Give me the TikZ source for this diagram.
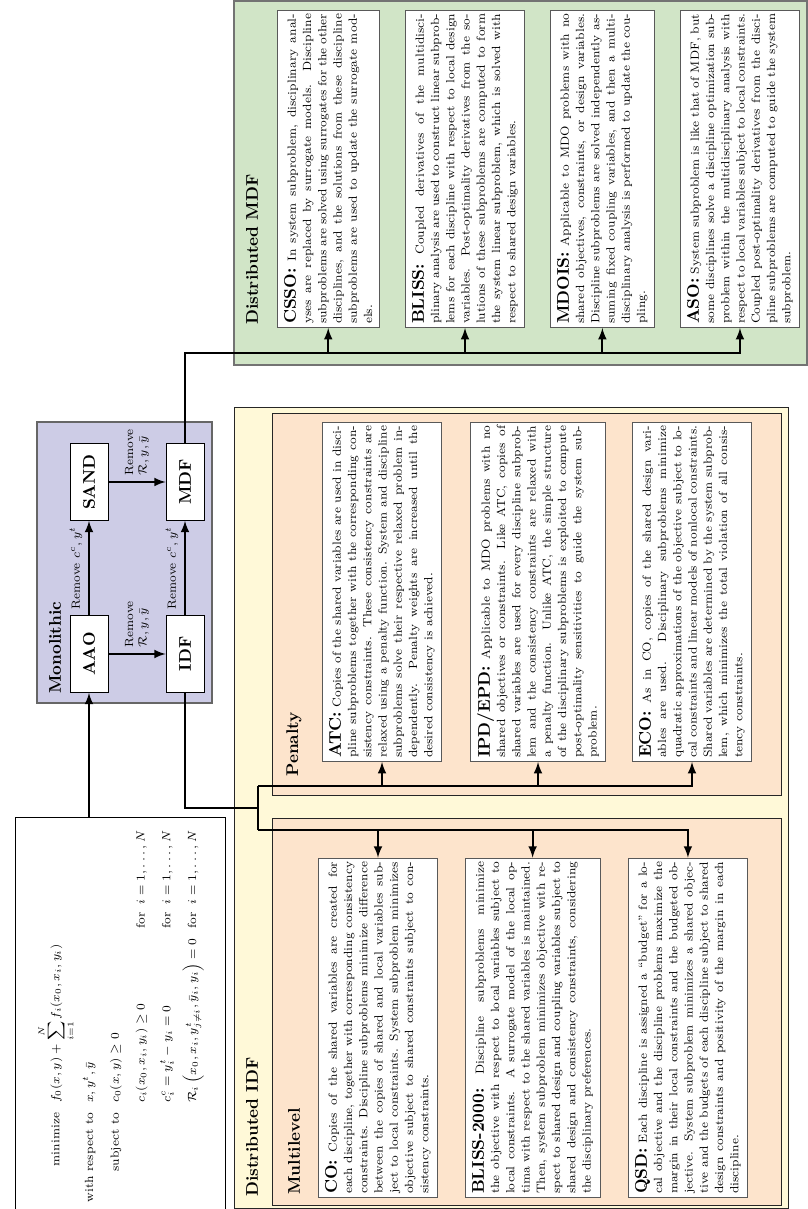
\documentclass[tikz,border=0pt]{standalone}
\usepackage{amsmath,amssymb}
\usepackage{tikz}
\usetikzlibrary{positioning}
\definecolor{monofill}{RGB}{205,204,230}
\definecolor{idffill}{RGB}{255,249,216}
\definecolor{subfill}{RGB}{253,228,204}
\definecolor{mdffill}{RGB}{209,229,199}
\newcommand{\hd}[1]{{\normalsize\bfseries #1:}\ }
\hyphenation{anal-yses in-dependently desired}

\begin{document}
\begin{tikzpicture}[x=0.59pt,y=-0.59pt,rotate=90,transform shape,
 every node/.style={font=\scriptsize},
 grouplabel/.style={font=\normalsize\bfseries,anchor=west,inner sep=0pt},
 arch/.style={draw,fill=white,font=\normalsize\bfseries,minimum width=45.4pt,minimum height=22.4pt},
 desc/.style={draw=black!65,fill=white,anchor=north west,align=justify,inner xsep=2.2pt,inner ysep=4pt,
  text width=#1,font=\fontsize{7}{9}\selectfont},
 bus/.style={line width=1.3pt},
 feed/.style={line width=1.3pt,-latex}]
\useasboundingbox (0,0) rectangle (1209,807);

% group boxes
\draw[draw=black!60,line width=1pt,fill=monofill] (506,37) rectangle (787,212);
\draw[draw=black!55,line width=1.2pt,fill=mdffill] (844,234) rectangle (1208,807);
\draw[draw=black!85,line width=0.5pt,fill=idffill] (1,234) rectangle (802,788);
\draw[draw=black!85,line width=0.5pt,fill=subfill] (4,272) rectangle (391,781);
\draw[draw=black!85,line width=0.5pt,fill=subfill] (414,272) rectangle (796,781);

% problem statement
\node[draw,fill=white,anchor=north east,inner sep=5pt,minimum height=124pt,font=\scriptsize] (prob) at (392,15)
 {\setlength{\arraycolsep}{3pt}\renewcommand{\arraystretch}{1.9}$\begin{array}{rll}
 \text{minimize} & f_0(x,y)+\displaystyle\sum_{i=1}^{N} f_i(x_0,x_i,y_i) & \\[4pt]
 \text{with respect to} & x,y^t,\bar{y} & \\
 \text{subject to} & c_0(x,y)\ge 0 & \\
 & c_i(x_0,x_i,y_i)\ge 0 & \text{for}\;\; i=1,\ldots,N\\
 & c^c_i=y^t_i-y_i=0 & \text{for}\;\; i=1,\ldots,N\\
 & \mathcal{R}_i\left(x_0,x_i,y^t_{j\ne i},\bar{y}_i,y_i\right)=0 & \text{for}\;\; i=1,\ldots,N
 \end{array}$};

% monolithic
\node[grouplabel] (monolbl) at (515,55) {Monolithic};
\node[arch] (aao) at (555,89) {AAO};
\node[arch] (sand) at (727,89) {SAND};
\node[arch] (idf) at (555,185) {IDF};
\node[arch] (mdf) at (727,185) {MDF};
\draw[feed] (aao) -- node[above] {Remove $c^c,y^t$} (sand);
\draw[feed] (idf) -- node[above] {Remove $c^c,y^t$} (mdf);
\draw[feed] (aao) -- node[right,align=left] {Remove\\$\mathcal{R},y,\bar{y}$} (idf);
\draw[feed] (sand) -- node[right,align=left] {Remove\\$\mathcal{R},y,\bar{y}$} (mdf);
\draw[feed] (prob.east |- aao) -- (aao);

% distributed MDF
\node[grouplabel] (mdflbl) at (884,252) {Distributed MDF};
\node[desc=183pt] (csso) at (881,277) {\hd{CSSO}In system subproblem, disciplinary analyses are replaced by surrogate models. Discipline subproblems are solved using surrogates for the other disciplines, and the solutions from these discipline subproblems are used to update the surrogate models.};
\node[desc=183pt] (bliss) at (881,405) {\hd{BLISS}Coupled derivatives of the multidisciplinary analysis are used to construct linear subproblems for each discipline with respect to local design variables. Post-optimality derivatives from the solutions of these subproblems are computed to form the system linear subproblem, which is solved with respect to shared design variables.};
\node[desc=183pt] (mdois) at (881,550) {\hd{MDOIS}Applicable to MDO problems with no shared objectives, constraints, or design variables. Discipline subproblems are solved independently assuming fixed coupling variables, and then a multidisciplinary analysis is performed to update the coupling.};
\node[desc=183pt] (aso) at (881,680) {\hd{ASO}System subproblem is like that of MDF, but some disciplines solve a discipline optimization subproblem within the multidisciplinary analysis with respect to local variables subject to local constraints. Coupled post-optimality derivatives from the discipline subproblems are computed to guide the system subproblem.};

% distributed IDF
\node[grouplabel] (idflbl) at (12,252) {Distributed IDF};
\node[grouplabel] (mllbl) at (14,294) {Multilevel};
\node[grouplabel] (penlbl) at (432,294) {Penalty};
\node[desc=196pt] (atc) at (447,322) {\hd{ATC}Copies of the shared variables are used in discipline subproblems together with the corresponding consistency constraints. These consistency constraints are relaxed using a penalty function. System and discipline subproblems solve their respective relaxed problem independently. Penalty weights are increased until the desired consistency is achieved.};
\node[desc=196pt] (ipd) at (447,470) {\hd{IPD/EPD}Applicable to MDO problems with no shared objectives or constraints. Like ATC, copies of shared variables are used for every discipline subproblem and the consistency constraints are relaxed with a penalty function. Unlike ATC, the simple structure of the disciplinary subproblems is exploited to compute post-optimality sensitivities to guide the system subproblem.};
\node[desc=196pt] (eco) at (447,632) {\hd{ECO}As in CO, copies of the shared design variables are used. Disciplinary subproblems minimize quadratic approximations of the objective subject to local constraints and linear models of nonlocal constraints. Shared variables are determined by the system subproblem, which minimizes the total violation of all consistency constraints.};
\node[desc=196pt] (co) at (11,318) {\hd{CO}Copies of the shared variables are created for\linebreak each discipline, together with corresponding consistency\linebreak constraints. Discipline subproblems minimize difference\linebreak between the copies of shared and local variables sub-\linebreak ject to local constraints. System subproblem minimizes\linebreak objective subject to shared constraints subject to con-\linebreak sistency constraints.};
\node[desc=196pt] (blisstt) at (11,465) {\hd{BLISS-2000}Discipline subproblems minimize\linebreak the objective with respect to local variables subject to\linebreak local constraints. A surrogate model of the local op-\linebreak tima with respect to the shared variables is maintained.\linebreak Then, system subproblem minimizes objective with re-\linebreak spect to shared design and coupling variables subject to\linebreak shared design and consistency constraints, considering\linebreak the disciplinary preferences.};
\node[desc=196pt] (qsd) at (11,628) {\hd{QSD}Each discipline is assigned a ``budget'' for a lo-\linebreak cal objective and the discipline problems maximize the\linebreak margin in their local constraints and the budgeted ob-\linebreak jective. System subproblem minimizes a shared objec-\linebreak tive and the budgets of each discipline subject to shared\linebreak design constraints and positivity of the margin in each\linebreak discipline.};

% connectors to the distributed architectures
\coordinate (mdfturn) at (856,185);
\draw[feed] (mdf) -- (mdfturn) |- (aso.west);
\foreach \n in {csso,bliss,mdois}
 \draw[feed] (mdfturn |- \n.west) -- (\n.west);
\coordinate (idfturn) at (401,258);
\coordinate (penbus) at (423,258);
\coordinate (mlbus) at (379,258);
\draw[bus] (idf) -| (idfturn);
\draw[bus] (mlbus) -- (penbus);
\draw[feed] (penbus) |- (eco.west);
\draw[feed] (mlbus) |- (qsd.east);
\foreach \n in {atc,ipd}
 \draw[feed] (penbus |- \n.west) -- (\n.west);
\foreach \n in {co,blisstt}
 \draw[feed] (mlbus |- \n.east) -- (\n.east);
\end{tikzpicture}
\end{document}
